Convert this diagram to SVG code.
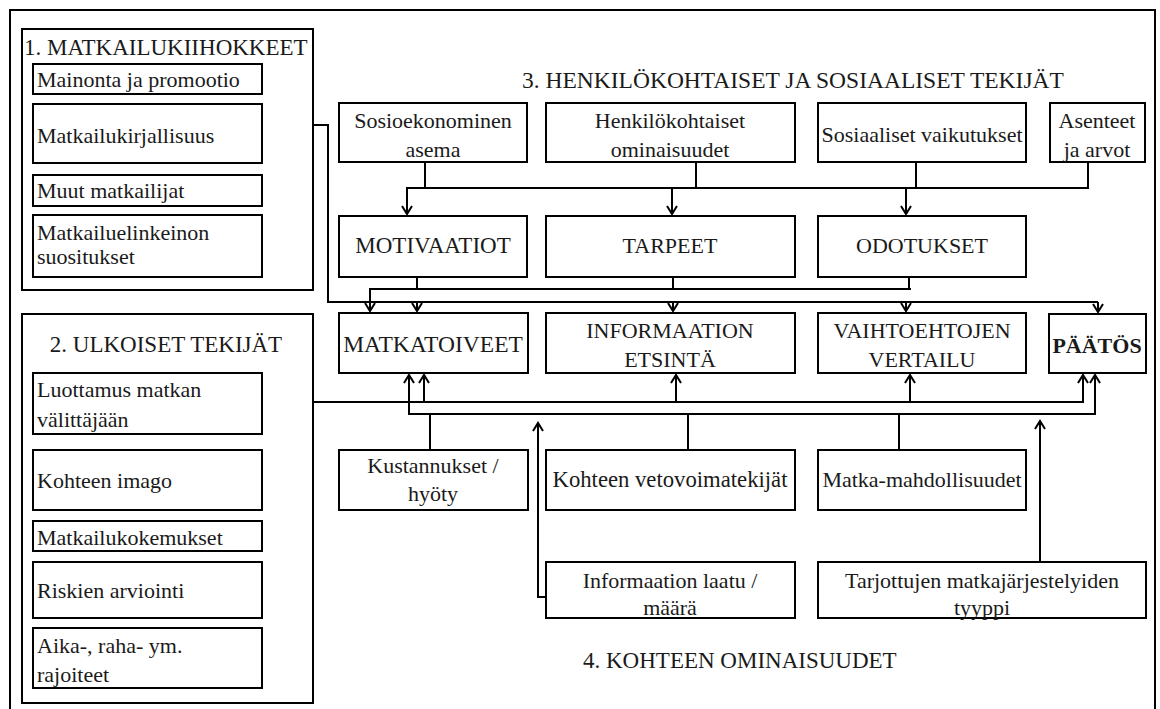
<svg xmlns="http://www.w3.org/2000/svg" width="1160" height="709" viewBox="0 0 1160 709" font-family="'Liberation Serif', 'Times New Roman', serif">
<style>
rect.b{fill:none;stroke:#000;stroke-width:2}
text{font-family:"Liberation Serif","Times New Roman",serif;font-size:22px;fill:#1a1a1a}
.m{text-anchor:middle}
.h{font-size:23px}
.c{stroke:#000;stroke-width:2;fill:none}
.a{marker-end:url(#ar)}
</style>
<defs>
<marker id="ar" viewBox="-10 -6 12 12" refX="0" refY="0" markerWidth="12" markerHeight="12" markerUnits="userSpaceOnUse" orient="auto">
<path d="M-8,-5 L0,0 L-8,5" fill="none" stroke="#000" stroke-width="2"/>
</marker>
</defs>
<rect width="1160" height="709" fill="#fff"/>
<rect class="b" x="10" y="10" width="1145" height="710"/>

<g id="g1">
<rect class="b" x="22" y="29" width="291" height="261"/>
<text class="h" x="24" y="55">1. MATKAILUKIIHOKKEET</text>
</g>
<g id="n-mainonta"><rect class="b" x="33" y="64" width="229" height="30"/><text x="37" y="87">Mainonta ja promootio</text></g>
<g id="n-kirj"><rect class="b" x="33" y="104" width="229" height="59"/><text x="37" y="143">Matkailukirjallisuus</text></g>
<g id="n-muut"><rect class="b" x="33" y="175" width="229" height="31"/><text x="37" y="198">Muut matkailijat</text></g>
<g id="n-elink"><rect class="b" x="33" y="215" width="229" height="62"/><text x="37" y="240">Matkailuelinkeinon</text><text x="37" y="264">suositukset</text></g>

<g id="g2">
<rect class="b" x="22" y="314" width="291" height="389"/>
<text class="m h" x="166" y="352">2. ULKOISET TEKIJÄT</text>
</g>
<g id="n-luott"><rect class="b" x="33" y="373" width="229" height="61"/><text x="37" y="397">Luottamus matkan</text><text x="37" y="427">välittäjään</text></g>
<g id="n-imago"><rect class="b" x="33" y="450" width="229" height="60"/><text x="37" y="488">Kohteen imago</text></g>
<g id="n-kokem"><rect class="b" x="33" y="521" width="229" height="30"/><text x="37" y="545">Matkailukokemukset</text></g>
<g id="n-riski"><rect class="b" x="33" y="562" width="229" height="56"/><text x="37" y="598">Riskien arviointi</text></g>
<g id="n-aika"><rect class="b" x="33" y="628" width="229" height="60"/><text x="37" y="653">Aika-, raha- ym.</text><text x="37" y="682">rajoiteet</text></g>

<g id="g3"><text x="522" y="88" style="font-size:23.5px">3. HENKILÖKOHTAISET JA SOSIAALISET TEKIJÄT</text></g>
<g id="n-sosio"><rect class="b" x="339" y="103" width="188" height="59"/><text class="m" x="433" y="128">Sosioekonominen</text><text class="m" x="433" y="157">asema</text></g>
<g id="n-henk"><rect class="b" x="546" y="103" width="249" height="59"/><text class="m" x="670" y="128">Henkilökohtaiset</text><text class="m" x="670" y="157">ominaisuudet</text></g>
<g id="n-sosiaal"><rect class="b" x="818" y="103" width="208" height="59"/><text class="m" x="922" y="142">Sosiaaliset vaikutukset</text></g>
<g id="n-asent"><rect class="b" x="1050" y="103" width="95" height="59"/><text class="m" x="1097" y="128">Asenteet</text><text class="m" x="1097" y="157">ja arvot</text></g>

<g id="n-motiv"><rect class="b" x="339" y="216" width="188" height="61"/><text class="m" x="433" y="253" style="font-size:23px">MOTIVAATIOT</text></g>
<g id="n-tarp"><rect class="b" x="546" y="216" width="249" height="61"/><text class="m" x="670" y="253">TARPEET</text></g>
<g id="n-odot"><rect class="b" x="818" y="216" width="208" height="61"/><text class="m" x="922" y="253">ODOTUKSET</text></g>

<g id="n-matkat"><rect class="b" x="339" y="313" width="189" height="60"/><text class="m" x="433" y="352" style="font-size:23.5px">MATKATOIVEET</text></g>
<g id="n-info"><rect class="b" x="546" y="313" width="249" height="60"/><text class="m" x="670" y="338">INFORMAATION</text><text class="m" x="670" y="367">ETSINTÄ</text></g>
<g id="n-vaiht"><rect class="b" x="818" y="313" width="208" height="60"/><text class="m" x="922" y="338">VAIHTOEHTOJEN</text><text class="m" x="922" y="367">VERTAILU</text></g>
<g id="n-paatos"><rect class="b" x="1049" y="314" width="97" height="59"/><text class="m" x="1097" y="353" style="font-weight:bold">PÄÄTÖS</text></g>

<g id="n-kust"><rect class="b" x="339" y="450" width="189" height="60"/><text class="m" x="433" y="473">Kustannukset /</text><text class="m" x="433" y="501">hyöty</text></g>
<g id="n-veto"><rect class="b" x="546" y="450" width="249" height="60"/><text class="m" x="670" y="487" style="font-size:22.7px">Kohteen vetovoimatekijät</text></g>
<g id="n-mahd"><rect class="b" x="818" y="450" width="208" height="60"/><text class="m" x="922" y="487">Matka-mahdollisuudet</text></g>
<g id="n-laatu"><rect class="b" x="546" y="562" width="249" height="56"/><text class="m" x="670" y="588">Informaation laatu /</text><text class="m" x="670" y="615">määrä</text></g>
<g id="n-tarj"><rect class="b" x="818" y="562" width="328" height="56"/><text class="m" x="982" y="588">Tarjottujen matkajärjestelyiden</text><text class="m" x="982" y="615">tyyppi</text></g>
<g id="g4"><text class="h" x="583" y="668">4. KOHTEEN OMINAISUUDET</text></g>

<g id="connectors">
<path class="c" d="M425,162 V188 M696,162 V188 M916,162 V188 M1088,162 V188 M406,188 H1089"/>
<path class="c a" d="M407,188 V214"/>
<path class="c a" d="M672,188 V214"/>
<path class="c a" d="M906,188 V214"/>
<path class="c" d="M417,277 V289 M673,277 V289 M909,277 V289 M369,289 H911"/>
<path class="c a" d="M370,289 V311"/>
<path class="c" d="M313,125 H328 V302 H1098"/>
<path class="c a" d="M417,302 V311"/>
<path class="c a" d="M673,302 V311"/>
<path class="c a" d="M906,302 V311"/>
<path class="c a" d="M1098,302 V312"/>
<path class="c" d="M313,402 H1084"/>
<path class="c a" d="M424,402 V375"/>
<path class="c a" d="M676,402 V375"/>
<path class="c a" d="M910,402 V375"/>
<path class="c a" d="M1083,402 V375"/>
<path class="c" d="M408,414 H1096"/>
<path class="c a" d="M409,414 V375"/>
<path class="c a" d="M1095,414 V375"/>
<path class="c" d="M430,450 V414 M688,450 V414 M899,450 V414"/>
<path class="c a" d="M546,597 H538 V423"/>
<path class="c a" d="M1040,562 V421"/>
</g>
</svg>
